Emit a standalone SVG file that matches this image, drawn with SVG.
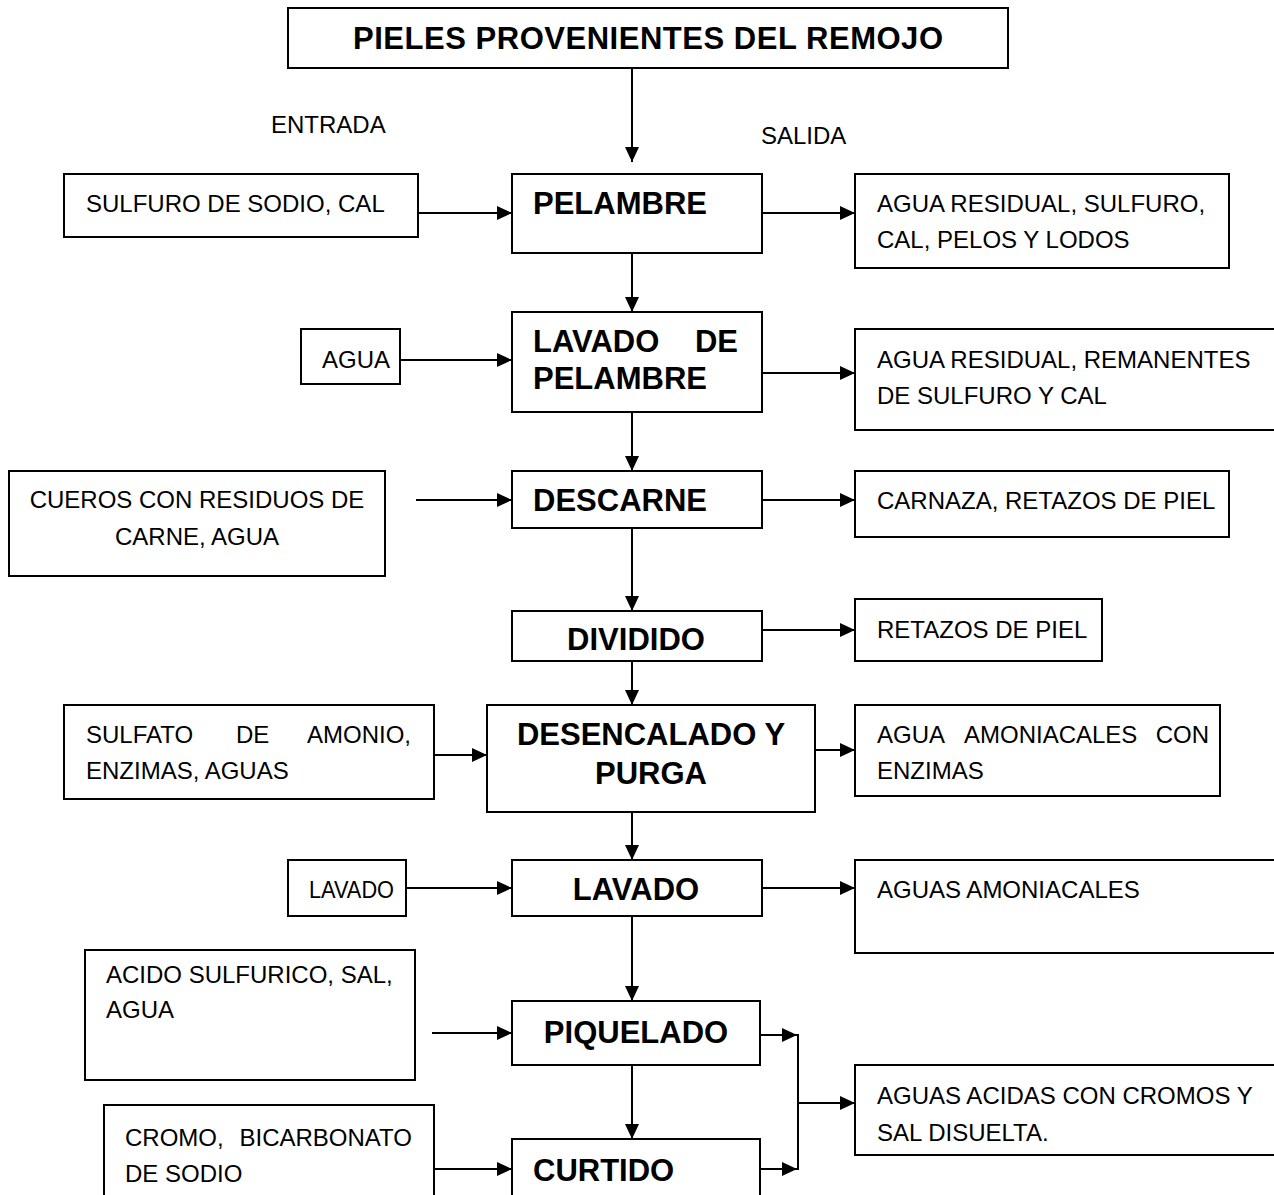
<svg xmlns="http://www.w3.org/2000/svg" width="1274" height="1195" viewBox="0 0 1274 1195">
<defs>
<marker id="ah" markerUnits="userSpaceOnUse" markerWidth="16" markerHeight="14" refX="15" refY="7" orient="auto">
<path d="M0,0 L15,7 L0,14 Z" fill="#000"/>
</marker>
<style>
.n rect{fill:#fff;stroke:#000;stroke-width:2}
.c line,.c path{stroke:#000;stroke-width:2;fill:none}
.a{marker-end:url(#ah)}
.t{font-family:"Liberation Sans",Arial,sans-serif;font-size:24px;fill:#000}
.b{font-family:"Liberation Sans",Arial,sans-serif;font-size:31px;font-weight:bold;fill:#000}
</style>
</defs>
<rect x="0" y="0" width="1274" height="1195" fill="#fff"/>

<g id="n-title" class="n"><rect x="288" y="8" width="720" height="60"/><text class="b" x="648" y="49" text-anchor="middle" textLength="590">PIELES PROVENIENTES DEL REMOJO</text></g>
<g id="l-entrada"><text class="t" x="271" y="133">ENTRADA</text></g>
<g id="l-salida"><text class="t" x="761" y="144">SALIDA</text></g>

<g id="in1" class="n"><rect x="64" y="174" width="354" height="63"/><text class="t" x="86" y="212">SULFURO DE SODIO, CAL</text></g>
<g id="p1" class="n"><rect x="512" y="174" width="250" height="79"/><text class="b" x="533" y="214">PELAMBRE</text></g>
<g id="out1" class="n"><rect x="855" y="174" width="374" height="94"/><text class="t" x="877" y="212">AGUA RESIDUAL, SULFURO,</text><text class="t" x="877" y="248">CAL, PELOS Y LODOS</text></g>

<g id="in2" class="n"><rect x="301" y="329" width="99" height="55"/><text class="t" x="322" y="368">AGUA</text></g>
<g id="p2" class="n"><rect x="512" y="312" width="250" height="100"/><text class="b" y="352"><tspan x="533">LAVADO</tspan><tspan x="738" text-anchor="end">DE</tspan></text><text class="b" x="533" y="389">PELAMBRE</text></g>
<g id="out2" class="n"><rect x="855" y="329" width="430" height="101"/><text class="t" x="877" y="368">AGUA RESIDUAL, REMANENTES</text><text class="t" x="877" y="404">DE SULFURO Y CAL</text></g>

<g id="in3" class="n"><rect x="9" y="471" width="376" height="105"/><text class="t" x="197" y="508" text-anchor="middle">CUEROS CON RESIDUOS DE</text><text class="t" x="197" y="545" text-anchor="middle">CARNE, AGUA</text></g>
<g id="p3" class="n"><rect x="512" y="471" width="250" height="57"/><text class="b" x="533" y="511">DESCARNE</text></g>
<g id="out3" class="n"><rect x="855" y="471" width="374" height="66"/><text class="t" x="877" y="509">CARNAZA, RETAZOS DE PIEL</text></g>

<g id="p4" class="n"><rect x="512" y="611" width="250" height="50"/><text class="b" x="636" y="650" text-anchor="middle">DIVIDIDO</text></g>
<g id="out4" class="n"><rect x="855" y="599" width="247" height="62"/><text class="t" x="877" y="638">RETAZOS DE PIEL</text></g>

<g id="in5" class="n"><rect x="64" y="705" width="370" height="94"/><text class="t" y="743"><tspan x="86">SULFATO</tspan><tspan x="236">DE</tspan><tspan x="411" text-anchor="end">AMONIO,</tspan></text><text class="t" x="86" y="779">ENZIMAS, AGUAS</text></g>
<g id="p5" class="n"><rect x="487" y="705" width="328" height="107"/><text class="b" x="651" y="745" text-anchor="middle">DESENCALADO Y</text><text class="b" x="651" y="784" text-anchor="middle">PURGA</text></g>
<g id="out5" class="n"><rect x="855" y="705" width="365" height="91"/><text class="t" y="743"><tspan x="877">AGUA</tspan><tspan x="964">AMONIACALES</tspan><tspan x="1209" text-anchor="end">CON</tspan></text><text class="t" x="877" y="779">ENZIMAS</text></g>

<g id="in6" class="n"><rect x="288" y="860" width="118" height="56"/><text class="t" x="309" y="898" textLength="85" lengthAdjust="spacingAndGlyphs">LAVADO</text></g>
<g id="p6" class="n"><rect x="512" y="860" width="250" height="56"/><text class="b" x="636" y="900" text-anchor="middle">LAVADO</text></g>
<g id="out6" class="n"><rect x="855" y="860" width="430" height="93"/><text class="t" x="877" y="898">AGUAS AMONIACALES</text></g>

<g id="in7" class="n"><rect x="85" y="950" width="330" height="130"/><text class="t" x="106" y="983">ACIDO SULFURICO, SAL,</text><text class="t" x="106" y="1018">AGUA</text></g>
<g id="p7" class="n"><rect x="512" y="1001" width="248" height="64"/><text class="b" x="636" y="1043" text-anchor="middle">PIQUELADO</text></g>
<g id="out7" class="n"><rect x="855" y="1065" width="430" height="90"/><text class="t" x="877" y="1104">AGUAS ACIDAS CON CROMOS Y</text><text class="t" x="877" y="1141">SAL DISUELTA.</text></g>

<g id="in8" class="n"><rect x="104" y="1105" width="330" height="110"/><text class="t" y="1146"><tspan x="125">CROMO,</tspan><tspan x="412" text-anchor="end">BICARBONATO</tspan></text><text class="t" x="125" y="1182">DE SODIO</text></g>
<g id="p8" class="n"><rect x="512" y="1139" width="248" height="80"/><text class="b" x="533" y="1181">CURTIDO</text></g>

<g id="connectors" class="c">
<line class="a" x1="632" y1="68" x2="632" y2="162"/>
<line class="a" x1="418" y1="213" x2="512" y2="213"/>
<line class="a" x1="762" y1="213" x2="855" y2="213"/>
<line class="a" x1="632" y1="253" x2="632" y2="312"/>
<line class="a" x1="400" y1="360" x2="512" y2="360"/>
<line class="a" x1="762" y1="373" x2="855" y2="373"/>
<line class="a" x1="632" y1="412" x2="632" y2="471"/>
<line class="a" x1="416" y1="500" x2="512" y2="500"/>
<line class="a" x1="762" y1="500" x2="855" y2="500"/>
<line class="a" x1="632" y1="528" x2="632" y2="611"/>
<line class="a" x1="762" y1="630" x2="855" y2="630"/>
<line class="a" x1="632" y1="661" x2="632" y2="705"/>
<line class="a" x1="434" y1="755" x2="487" y2="755"/>
<line class="a" x1="815" y1="750" x2="855" y2="750"/>
<line class="a" x1="632" y1="812" x2="632" y2="860"/>
<line class="a" x1="406" y1="888" x2="512" y2="888"/>
<line class="a" x1="762" y1="888" x2="855" y2="888"/>
<line class="a" x1="632" y1="916" x2="632" y2="1001"/>
<line class="a" x1="432" y1="1033" x2="512" y2="1033"/>
<line class="a" x1="760" y1="1035" x2="797" y2="1035"/>
<line x1="798" y1="1034" x2="798" y2="1170"/>
<line class="a" x1="798" y1="1103" x2="855" y2="1103"/>
<line class="a" x1="632" y1="1065" x2="632" y2="1139"/>
<line class="a" x1="434" y1="1169" x2="512" y2="1169"/>
<line class="a" x1="760" y1="1169" x2="797" y2="1169"/>
</g>
</svg>
